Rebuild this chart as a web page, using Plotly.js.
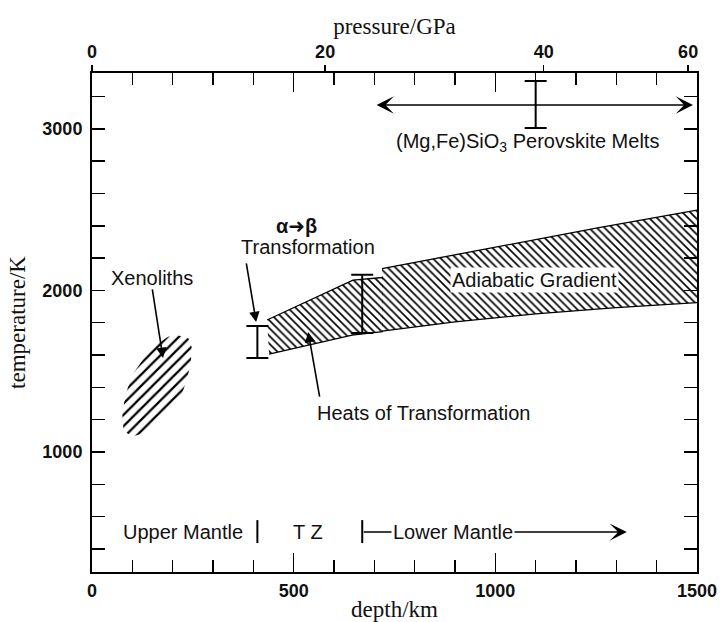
<!DOCTYPE html>
<html><head><meta charset="utf-8">
<script src="https://cdn.plot.ly/plotly-3.0.1.min.js"></script>
<style>body{margin:0;background:#fff}</style>
</head><body><div id="chart" style="width:720px;height:622px"></div>
<script>
// ---- axis ticks ----
const depthTickVals = [0, 500, 1000, 1500];
const depthTickText = ['0', '500', '1000', '1500'];
const tempTickVals = [1000, 2000, 3000];
const tempTickText = ['1000', '2000', '3000'];
const pressureLabels = ['0', '20', '40', '60'];
const pressureDepth = [0, 578, 1120, 1478];

// ---- xenoliths field (depth km, temperature K) ----
const xenoDepth = [210, 239, 247, 245, 235, 222, 193, 160, 127, 98, 78, 75, 84, 100, 131, 164, 189];
const xenoTemp  = [1724, 1704, 1652, 1549, 1446, 1353, 1260, 1178, 1116, 1095, 1136, 1239, 1363, 1476, 1590, 1673, 1713];

// ---- adiabatic gradient band ----
const seg1TopDepth = [434, 647, 721];
const seg1TopTemp  = [1817, 2064, 2080];
const seg1BotDepth = [439, 645, 721];
const seg1BotTemp  = [1606, 1724, 1745];
const seg2TopDepth = [719, 1000, 1250, 1500];
const seg2TopTemp  = [2135, 2267, 2385, 2497];
const seg2BotDepth = [719, 900, 1100, 1300, 1500];
const seg2BotTemp  = [1748, 1805, 1855, 1893, 1925];

// ---- uncertainty bars ----
const barDepth = [410, 670, 1100];
const barLow   = [1582, 1736, 3005];
const barHigh  = [1780, 2097, 3296];

// ---- perovskite melting range ----
const meltDepthFrom = 702, meltDepthTo = 1490, meltTemp = 3147;

// ---- mantle zones ----
const zoneBoundaryDepth = [410, 670];
const zoneTempLow = 437, zoneTempHigh = 579;
const zoneLabelTemp = 505;
const lowerMantleArrowEnd = 1326;

const black = '#000';
const sans = 'Liberation Sans, Arial, sans-serif';
const serif = 'Liberation Serif, Times New Roman, serif';

const traces = [];
// xenoliths
traces.push({x: xenoDepth.concat([xenoDepth[0]]), y: xenoTemp.concat([xenoTemp[0]]),
  mode: 'lines', fill: 'toself', line: {width: 0, color: 'rgba(0,0,0,0)'},
  fillcolor: 'rgba(0,0,0,0)',
  fillpattern: {shape: '/', size: 8, solidity: 0.28, fgcolor: black, bgcolor: 'rgba(0,0,0,0)'},
  hoverinfo: 'skip', showlegend: false});
// band polygons
function poly(td, tt, bd, bt) {
  return {x: td.concat(bd.slice().reverse()), y: tt.concat(bt.slice().reverse())};
}
[poly(seg1TopDepth, seg1TopTemp, seg1BotDepth, seg1BotTemp),
 poly(seg2TopDepth, seg2TopTemp, seg2BotDepth, seg2BotTemp)].forEach(p => {
  traces.push({x: p.x.concat([p.x[0]]), y: p.y.concat([p.y[0]]), mode: 'lines', fill: 'toself',
    line: {width: 0, color: 'rgba(0,0,0,0)'}, fillcolor: 'rgba(0,0,0,0)',
    fillpattern: {shape: '\\', size: 5.5, solidity: 0.3, fgcolor: black, bgcolor: 'rgba(0,0,0,0)'},
    hoverinfo: 'skip', showlegend: false});
});
// band edges
[[seg1TopDepth, seg1TopTemp], [seg1BotDepth, seg1BotTemp], [seg2TopDepth, seg2TopTemp], [seg2BotDepth, seg2BotTemp]]
  .forEach(([x, y]) => traces.push({x, y, mode: 'lines', line: {color: black, width: 1.3}, hoverinfo: 'skip', showlegend: false}));
// uncertainty bars
traces.push({x: barDepth, y: barLow.map((v, i) => (v + barHigh[i]) / 2), mode: 'markers',
  marker: {size: 1, color: 'rgba(0,0,0,0)'},
  error_y: {type: 'data', symmetric: true, array: barLow.map((v, i) => (barHigh[i] - v) / 2),
    visible: true, width: 11, thickness: 2, color: black},
  hoverinfo: 'skip', showlegend: false});
// zone boundaries
const zx = [], zy = [];
zoneBoundaryDepth.forEach(d => { zx.push(d, d, null); zy.push(zoneTempLow, zoneTempHigh, null); });
traces.push({x: zx, y: zy, mode: 'lines', line: {color: black, width: 2}, hoverinfo: 'skip', showlegend: false});
// dummy on pressure axis
traces.push({x: [0], y: [1000], xaxis: 'x2', mode: 'markers', marker: {size: 1, color: 'rgba(0,0,0,0)'}, hoverinfo: 'skip', showlegend: false});

const labelFont = {family: sans, size: 20, color: '#111'};
function label(text, x, y, extra) {
  return Object.assign({text, x, y, xref: 'x', yref: 'y', showarrow: false, font: labelFont}, extra || {});
}
function arrow(x, y, ax, ay, extra) {
  return Object.assign({text: '', x, y, ax, ay, xref: 'x', yref: 'y', axref: 'x', ayref: 'y',
    showarrow: true, arrowhead: 2, arrowsize: 1.3, arrowwidth: 1.6, arrowcolor: black, standoff: 0, startstandoff: 0}, extra || {});
}

const annotations = [
  label('Xenoliths', 149, 2077),
  arrow(176, 1582, 149, 2015),
  label('<b>α</b><span style="font-family:DejaVu Sans">➜</span><b>β</b>', 508, 2398),
  label('Transformation', 536, 2269),
  arrow(407, 1804, 382, 2176),
  arrow(536, 1743, 565, 1334),
  label('Heats of Transformation', 821, 1241),
  label('Adiabatic Gradient', 1098, 2064, {bgcolor: '#fff', borderpad: 1}),
  arrow(meltDepthTo, meltTemp, meltDepthFrom, meltTemp, {arrowside: 'end+start', arrowhead: 3, arrowsize: 1.8, arrowwidth: 1.6}),
  label('(Mg,Fe)SiO<sub>3</sub> Perovskite Melts', 1079, 2918),
  label('Upper Mantle', 226, zoneLabelTemp),
  label('T Z', 536, zoneLabelTemp),
  arrow(lowerMantleArrowEnd, zoneLabelTemp, zoneBoundaryDepth[1], zoneLabelTemp, {arrowhead: 3, arrowsize: 1.8, arrowwidth: 1.6}),
  label('Lower Mantle', 895, zoneLabelTemp, {bgcolor: '#fff', borderpad: 1})
];

const tickFont = {family: sans, size: 18, color: '#111', weight: 'bold'};
const layout = {
  width: 720, height: 622,
  margin: {l: 92, r: 23, t: 73, b: 50},
  paper_bgcolor: '#fff', plot_bgcolor: '#fff',
  showlegend: false,
  xaxis: {
    range: [0, 1500], tickmode: 'array', tickvals: depthTickVals, ticktext: depthTickText,
    ticks: 'inside', ticklen: 19, tickwidth: 1.5, tickcolor: black,
    minor: {tickmode: 'linear', tick0: 0, dtick: 100, ticks: 'inside', ticklen: 12, tickwidth: 1.5, tickcolor: black, showgrid: false},
    showline: true, linewidth: 2, linecolor: black, mirror: 'ticks',
    showgrid: false, zeroline: false, tickfont: tickFont, ticklabelstandoff: 1,
    title: {text: 'depth/km', font: {family: serif, size: 23, color: '#111'}, standoff: 2}
  },
  xaxis2: {
    overlaying: 'x', side: 'top', range: [0, 1500], tickmode: 'array',
    tickvals: pressureDepth, ticktext: pressureLabels,
    ticks: 'outside', ticklen: 7, tickwidth: 1.5, tickcolor: black,
    showline: false, showgrid: false, zeroline: false, tickfont: tickFont, ticklabelstandoff: 0,
    title: {text: 'pressure/GPa', font: {family: serif, size: 23, color: '#111'}, standoff: 0}
  },
  yaxis: {
    range: [258, 3345], tickmode: 'array', tickvals: tempTickVals, ticktext: tempTickText,
    ticks: 'inside', ticklen: 13, tickwidth: 1.5, tickcolor: black,
    minor: {tickmode: 'linear', tick0: 0, dtick: 200, ticks: 'inside', ticklen: 13, tickwidth: 1.5, tickcolor: black, showgrid: false},
    showline: true, linewidth: 2, linecolor: black, mirror: 'ticks',
    showgrid: false, zeroline: false, tickfont: tickFont, ticklabelstandoff: 4,
    title: {text: 'temperature/K', font: {family: serif, size: 23, color: '#111'}, standoff: 10}
  },
  annotations
};
Plotly.newPlot('chart', traces, layout, {staticPlot: true, displayModeBar: false});
</script></body></html>
